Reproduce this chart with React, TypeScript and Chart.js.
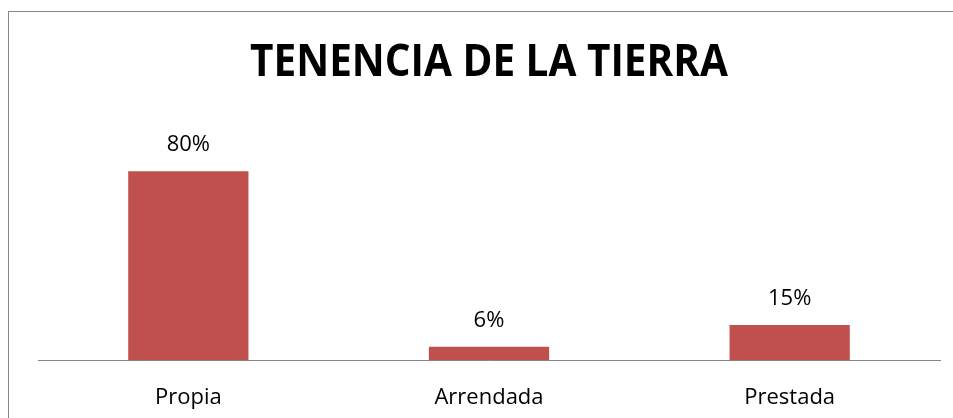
import React, { useEffect, useRef } from "react";
import { Chart, registerables } from "chart.js";

Chart.register(...registerables);

const categories = ["Propia", "Arrendada", "Prestada"];
const shares = [0.796, 0.056, 0.148];
const titleText = "TENENCIA DE LA TIERRA";

const TITLE_SIZE = 45;
const TITLE_PAD_TOP = 24;
const TITLE_SCALE_X = 0.9;

const valueLabels = {
  id: "valueLabels",
  afterDatasetsDraw(chart: any) {
    const ctx = chart.ctx;
    const meta = chart.getDatasetMeta(0);
    ctx.save();
    ctx.fillStyle = "#000000";
    ctx.font = "22px 'Open Sans'";
    ctx.textAlign = "center";
    ctx.textBaseline = "bottom";
    meta.data.forEach((bar: any, i: number) => {
      const v = chart.data.datasets[0].data[i] as number;
      ctx.fillText(Math.round(v * 100) + "%", bar.x, bar.y - 15);
    });
    ctx.restore();
  },
};

// Draws the title slightly condensed (the original uses a narrow bold face)
const condensedTitle = {
  id: "condensedTitle",
  afterDraw(chart: any) {
    const tb = chart.titleBlock;
    if (!tb) return;
    const ctx = chart.ctx;
    const cx = (chart.chartArea.left + chart.chartArea.right) / 2;
    const cy = tb.top + TITLE_PAD_TOP + (TITLE_SIZE * 1.2) / 2;
    ctx.save();
    ctx.translate(cx, cy);
    ctx.scale(TITLE_SCALE_X, 1);
    ctx.fillStyle = "#000000";
    ctx.font = `bold ${TITLE_SIZE}px 'Open Sans'`;
    ctx.textAlign = "center";
    ctx.textBaseline = "middle";
    ctx.fillText(titleText, 0, 0);
    ctx.restore();
  },
};

export default function App() {
  const ref = useRef<HTMLCanvasElement | null>(null);
  useEffect(() => {
    document.body.style.overflow = "hidden";
    document.documentElement.style.overflow = "hidden";
    const chart = new Chart(ref.current!, {
      type: "bar",
      data: {
        labels: categories,
        datasets: [
          {
            data: shares,
            backgroundColor: "#C0504D",
            borderWidth: 0,
            barPercentage: 0.4,
            categoryPercentage: 1,
          },
        ],
      },
      options: {
        animation: false,
        responsive: false,
        layout: { padding: { left: 29, right: 29, top: 0, bottom: 7.5 } },
        plugins: {
          legend: { display: false },
          tooltip: { enabled: false },
          title: {
            display: true,
            text: titleText,
            color: "rgba(0,0,0,0)",
            font: { family: "'Open Sans'", size: TITLE_SIZE, weight: "bold", lineHeight: 1.2 },
            padding: { top: TITLE_PAD_TOP, bottom: 56.5 },
          },
        },
        scales: {
          x: {
            grid: { display: false, drawTicks: false },
            border: { display: true, color: "#868686", width: 1 },
            ticks: { color: "#000000", font: { family: "'Open Sans'", size: 22 }, padding: 24 },
          },
          y: { display: false, min: 0, max: 0.9 },
        },
      },
      plugins: [valueLabels, condensedTitle],
    });
    return () => chart.destroy();
  }, []);
  return (
    <div
      style={{
        position: "absolute",
        left: 8,
        top: 11,
        width: 1000,
        height: 420,
        overflow: "hidden",
        borderTop: "1px solid #878787",
        borderLeft: "1px solid #878787",
        boxSizing: "border-box",
        background: "#ffffff",
      }}
    >
      <canvas ref={ref} width={960} height={430} style={{ display: "block", width: 960, height: 430 }} />
    </div>
  );
}
